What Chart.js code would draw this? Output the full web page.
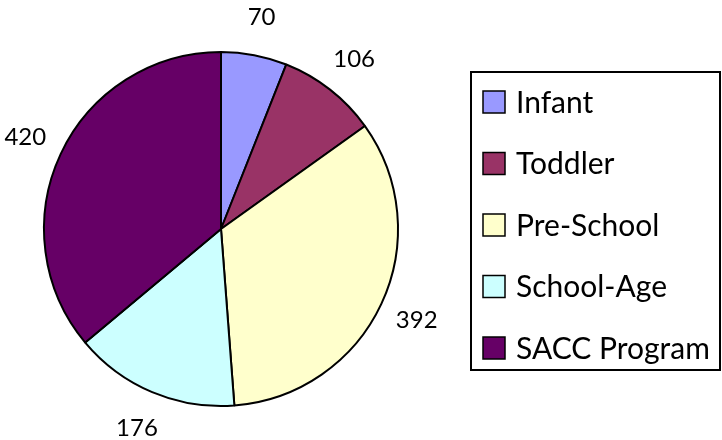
<!DOCTYPE html>
<html>
<head>
<meta charset="utf-8">
<script src="https://cdn.jsdelivr.net/npm/chart.js@4/dist/chart.umd.min.js"></script>
<style>
  html, body { margin: 0; padding: 0; background: #fff; }
  #wrap { width: 722px; height: 440px; }
</style>
</head>
<body>
<div id="wrap"><canvas id="pieChart" width="722" height="440"></canvas></div>
<script>
// Chart data
const categories = ['Infant', 'Toddler', 'Pre-School', 'School-Age', 'SACC Program'];
const enrolment = [70, 106, 392, 176, 420];
const sliceColors = ['#9999FF', '#993366', '#FFFFCC', '#CCFFFF', '#660066'];

const FONT = "Lato, 'DejaVu Sans', sans-serif";

// value labels outside each slice
const valueLabels = {
    id: 'valueLabels',
    afterDatasetsDraw(chart) {
        const ctx = chart.ctx;
        const meta = chart.getDatasetMeta(0);
        ctx.save();
        ctx.font = '24px ' + FONT;
        ctx.fillStyle = '#000';
        ctx.textAlign = 'center';
        ctx.textBaseline = 'middle';
        meta.data.forEach((arc, i) => {
            const mid = (arc.startAngle + arc.endAngle) / 2;
            const r = arc.outerRadius + 39;
            ctx.fillText(String(chart.data.datasets[0].data[i]), arc.x + Math.cos(mid) * r, arc.y + Math.sin(mid) * r);
        });
        ctx.restore();
    }
};

// boxed legend on the right side
const boxLegend = {
    id: 'boxLegend',
    afterDraw(chart) {
        const ctx = chart.ctx;
        const ds = chart.data.datasets[0];
        ctx.save();
        ctx.strokeStyle = '#000';
        ctx.lineWidth = 2;
        ctx.strokeRect(471, 72, 249, 298);
        ctx.font = '30px ' + FONT;
        ctx.textBaseline = 'middle';
        ctx.textAlign = 'left';
        chart.data.labels.forEach((lbl, i) => {
            const y = 102 + i * 61.5;
            ctx.fillStyle = ds.backgroundColor[i];
            ctx.fillRect(483, y - 11, 22, 22);
            ctx.lineWidth = 1.5;
            ctx.strokeRect(483, y - 11, 22, 22);
            ctx.fillStyle = '#000';
            ctx.fillText(lbl, 516, y + 1);
        });
        ctx.restore();
    }
};

new Chart(document.getElementById('pieChart'), {
    type: 'pie',
    data: {
        labels: categories,
        datasets: [{
            data: enrolment,
            backgroundColor: sliceColors,
            borderColor: '#000',
            borderWidth: 2
        }]
    },
    options: {
        responsive: false,
        animation: false,
        layout: { padding: { left: 43, top: 51, right: 323, bottom: 33 } },
        plugins: {
            legend: { display: false },
            tooltip: { enabled: false }
        }
    },
    plugins: [valueLabels, boxLegend]
});
</script>
</body>
</html>
